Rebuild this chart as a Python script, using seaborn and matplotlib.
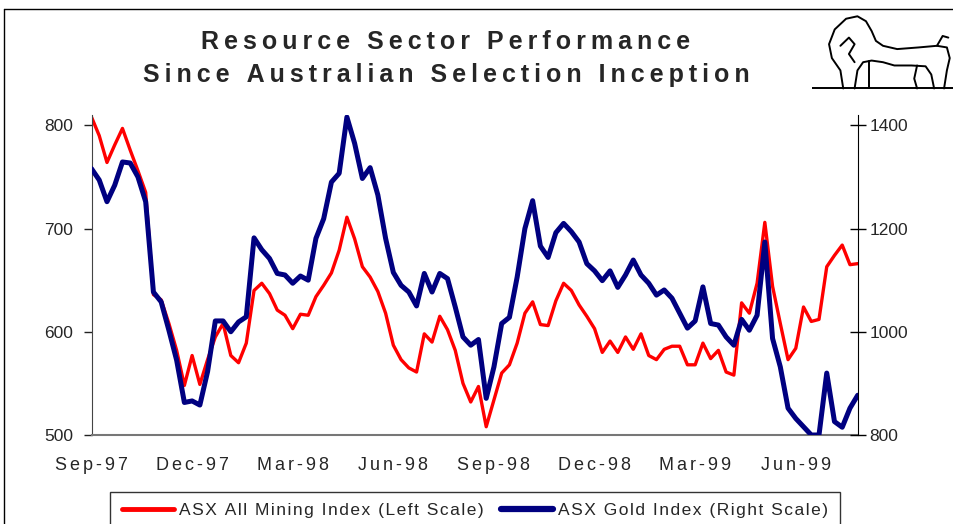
import matplotlib
matplotlib.use("Agg")
import matplotlib.pyplot as plt
from matplotlib.lines import Line2D
import numpy as np
import pandas as pd
import seaborn as sns

# weekly closes, Sep-97 .. Aug-99
mining = [808, 790, 764, 781, 797, 776, 756, 735, 636, 631, 608, 582, 548, 577, 549, 573,
          595, 608, 577, 570, 589, 640, 647, 637, 621, 616, 603, 617, 616, 634, 645, 657,
          679, 711, 690, 663, 653, 639, 618, 587, 573, 565, 561, 598, 590, 615, 602, 582,
          550, 532, 547, 508, 534, 560, 568, 589, 618, 629, 607, 606, 630, 647, 640, 626,
          615, 603, 580, 591, 580, 595, 583, 598, 577, 573, 583, 586, 586, 568, 568, 589,
          574, 582, 561, 558, 628, 618, 647, 706, 644, 608, 573, 584, 624, 610, 612, 663,
          674, 684, 665, 666]
gold = [1316, 1294, 1252, 1284, 1329, 1327, 1300, 1252, 1077, 1058, 1003, 945, 863, 866, 858, 923,
        1021, 1021, 1000, 1019, 1029, 1182, 1159, 1142, 1113, 1110, 1094, 1108, 1100, 1181, 1219, 1290,
        1307, 1416, 1365, 1297, 1318, 1265, 1181, 1115, 1090, 1077, 1050, 1113, 1077, 1113, 1103, 1048,
        990, 974, 985, 871, 932, 1016, 1028, 1106, 1200, 1254, 1166, 1144, 1192, 1210, 1194, 1174,
        1132, 1118, 1099, 1118, 1086, 1110, 1139, 1110, 1094, 1071, 1081, 1065, 1036, 1007, 1021, 1087,
        1016, 1013, 990, 974, 1024, 1003, 1032, 1174, 987, 932, 852, 832, 816, 800, 800, 920,
        826, 815, 852, 877]
tick_labels = ["Sep-97", "Dec-97", "Mar-98", "Jun-98", "Sep-98", "Dec-98", "Mar-99", "Jun-99"]
left_ticks = [500, 600, 700, 800]
right_ticks = [800, 1000, 1200, 1400]


def spaced(s, sep="\u2009"):
    # old Excel charts had loose letter spacing
    return sep.join(s)


df = pd.DataFrame({"week": np.arange(len(mining)), "mining": mining, "gold": gold})

sns.set_style("white")
plt.rcParams["font.family"] = ["Liberation Sans", "DejaVu Sans"]

W, H = 954, 524
fig = plt.figure(figsize=(W / 100, H / 100), dpi=100)
ax = fig.add_axes([91.5 / W, 1 - 435 / H, (857.7 - 91.5) / W, (435 - 115) / H])
ax2 = ax.twinx()

sns.lineplot(data=df, x="week", y="mining", ax=ax, color="#ff0000", linewidth=2.4,
             label="ASX All Mining Index (Left Scale)", legend=False)
sns.lineplot(data=df, x="week", y="gold", ax=ax2, color="#000080", linewidth=3.6,
             label="ASX Gold Index (Right Scale)", legend=False)

ax.set_xlim(0, len(mining) - 1)
ax.set_ylim(500, 810)
ax2.set_ylim(800, 1420)

ax.set_xticks(np.arange(len(tick_labels)) * 13)
ax.set_xticklabels([spaced(t, "\u2006") for t in tick_labels], fontsize=13)
ax.set_yticks(left_ticks)
ax.set_yticklabels([str(t) for t in left_ticks], fontsize=12.5)
ax2.set_yticks(right_ticks)
ax2.set_yticklabels([str(t) for t in right_ticks], fontsize=12.5)
ax.set_xlabel("")
ax.set_ylabel("")
ax2.set_ylabel("")

ax.tick_params(axis="x", direction="out", length=5, width=1, color="#444444", pad=11)
ax.tick_params(axis="y", direction="out", length=6, width=1, color="#222222", pad=7)
ax2.tick_params(axis="y", direction="inout", length=11, width=1, color="black", pad=3)

for a in (ax, ax2):
    a.spines["top"].set_visible(False)
    a.grid(False)
ax2.spines["left"].set_visible(False)
ax2.spines["bottom"].set_visible(False)
ax.spines["right"].set_visible(False)
ax.spines["left"].set_color("#444444")
ax.spines["bottom"].set_color("#777777")
ax.spines["bottom"].set_linewidth(1.5)
ax2.spines["right"].set_color("black")

# title
fig.text(446 / W, 1 - 42 / H, spaced("Resource Sector Performance"), ha="center", va="center",
         fontsize=18, fontweight="bold")
fig.text(446 / W, 1 - 75 / H, spaced("Since Australian Selection Inception"), ha="center",
         va="center", fontsize=18, fontweight="bold")

# legend, bottom edge runs off the figure like the original
handles = [Line2D([], [], color="#ff0000", linewidth=3.5),
           Line2D([], [], color="#000080", linewidth=4.5)]
labels = [spaced("ASX All Mining Index (Left Scale)", "\u200a"),
          spaced("ASX Gold Index (Right Scale)", "\u200a")]
leg = fig.legend(handles, labels, loc="upper center", bbox_to_anchor=(475 / W, 1 - 483 / H),
                 ncol=2, frameon=True, fancybox=False, edgecolor="black", fontsize=12.5,
                 handlelength=3.0, handletextpad=0.3, columnspacing=1.0, borderpad=0.65)
leg.get_frame().set_linewidth(1.0)

# outer frame
fig.add_artist(Line2D([4 / W, 4 / W], [0, 1 - 9 / H], color="black", linewidth=1))
fig.add_artist(Line2D([4 / W, 1], [1 - 9 / H, 1 - 9 / H], color="black", linewidth=1))

# rough lion logo
lax = fig.add_axes([812 / W, 1 - 95 / H, 142 / W, 82 / H])
lax.set_xlim(0, 1)
lax.set_ylim(0, 1)
lax.axis("off")
lion = [
    [(0.0, 0.08), (1.0, 0.08)],
    [(0.22, 0.08), (0.2, 0.3), (0.14, 0.45), (0.12, 0.62), (0.16, 0.8), (0.24, 0.93),
     (0.32, 0.96), (0.38, 0.9), (0.42, 0.78), (0.45, 0.66), (0.5, 0.6), (0.6, 0.56),
     (0.75, 0.58), (0.88, 0.6), (0.95, 0.58), (0.97, 0.45), (0.95, 0.3), (0.93, 0.08)],
    [(0.3, 0.08), (0.32, 0.3), (0.36, 0.4), (0.42, 0.42), (0.5, 0.4), (0.58, 0.36),
     (0.7, 0.36), (0.8, 0.35), (0.84, 0.25), (0.86, 0.08)],
    [(0.74, 0.36), (0.72, 0.2), (0.74, 0.08)],
    [(0.88, 0.6), (0.92, 0.72), (0.96, 0.7)],
    [(0.2, 0.6), (0.26, 0.7), (0.3, 0.62), (0.26, 0.5), (0.3, 0.4)],
    [(0.4, 0.42), (0.4, 0.08)],
]
for seg in lion:
    xs, ys = zip(*seg)
    lax.plot(xs, ys, color="black", linewidth=1.4)

fig.savefig("out.png", dpi=100)
